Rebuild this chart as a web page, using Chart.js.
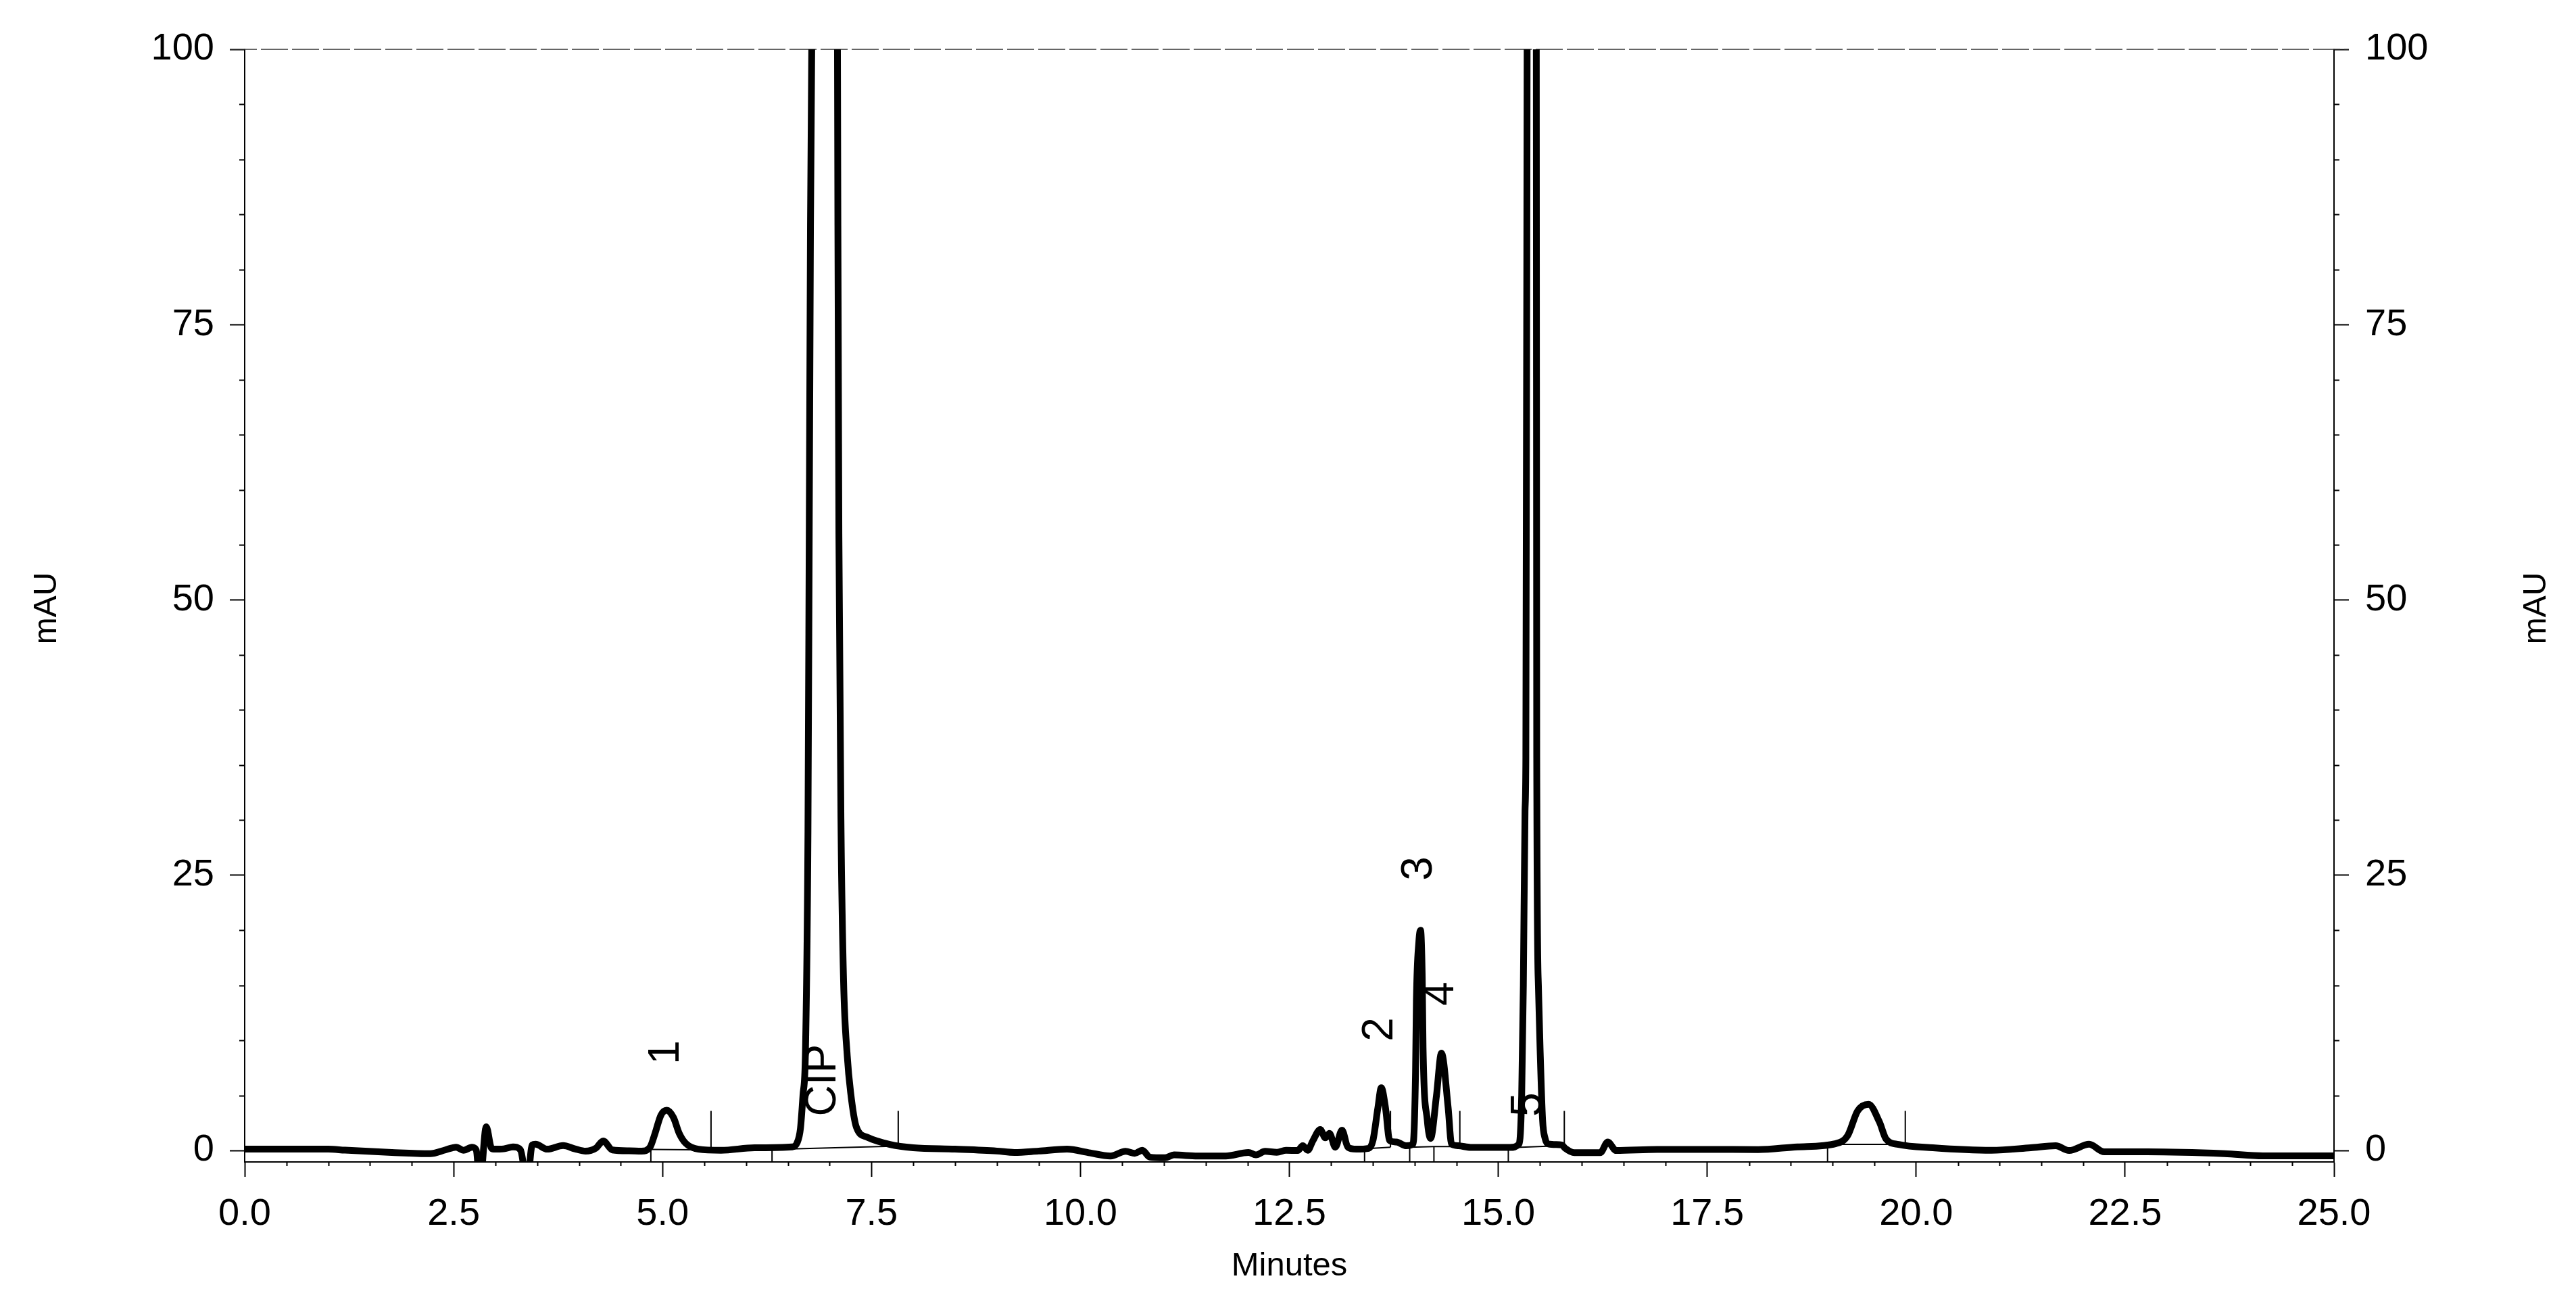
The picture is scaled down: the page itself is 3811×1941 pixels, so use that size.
<!DOCTYPE html>
<html>
<head>
<meta charset="utf-8">
<style>
  html, body { margin: 0; padding: 0; background: #ffffff; }
  canvas { display: block; }
</style>
<script src="https://cdn.jsdelivr.net/npm/chart.js@4/dist/chart.umd.min.js"></script>
</head>
<body>
<canvas id="c" width="3811" height="1941"></canvas>
<script>
// ---- data ----
const times = [
  0.00, 0.50, 1.00, 1.20, 1.76, 2.22, 2.40, 2.53, 2.62, 2.72, 2.77, 2.815, 2.89, 2.95, 2.98,
  3.10, 3.21, 3.30, 3.38, 3.44, 3.48, 3.62, 3.81, 3.95, 4.08, 4.20, 4.29, 4.40, 4.60, 4.75,
  4.85, 4.91, 4.98, 5.05, 5.13, 5.20, 5.28, 5.43, 5.70, 6.10, 6.55, 6.61, 6.65, 6.68, 6.71,
  6.74, 6.755, 6.77, 6.785, 6.94, 7.093, 7.098, 7.11, 7.136, 7.166, 7.21, 7.25, 7.32, 7.45, 7.72,
  8.00, 8.50, 9.00, 9.21, 9.50, 9.84, 10.10, 10.36, 10.54, 10.65, 10.74, 10.83, 11.01, 11.12, 11.40,
  11.74, 12.01, 12.10, 12.21, 12.35, 12.46, 12.60, 12.66, 12.72, 12.78, 12.87, 12.93, 12.98, 13.05, 13.13,
  13.20, 13.30, 13.45, 13.50, 13.56, 13.60, 13.65, 13.70, 13.78, 13.90, 13.98, 14.01, 14.02, 14.05, 14.07,
  14.09, 14.10, 14.15, 14.19, 14.26, 14.32, 14.40, 14.44, 14.52, 14.67, 15.14, 15.25, 15.28, 15.30, 15.32,
  15.33, 15.345, 15.40, 15.455, 15.46, 15.48, 15.50, 15.53, 15.56, 15.60, 15.76, 15.80, 15.91, 16.22, 16.31,
  16.41, 16.90, 17.50, 18.11, 18.58, 19.04, 19.18, 19.30, 19.43, 19.56, 19.64, 19.79, 20.20, 20.90, 21.37,
  21.67, 21.83, 22.07, 22.25, 22.76, 23.69, 24.15, 25.00
];
const mAU = [
  0.12, 0.12, 0.12, 0.03, -0.18, -0.29, 0.05, 0.30, 0.02, 0.29, 0.05, -3.0, 2.15, 0.25, 0.12,
  0.15, 0.33, 0.05, -3.0, 0.50, 0.57, 0.12, 0.45, 0.15, -0.06, 0.20, 0.86, 0.05, -0.03, -0.06,
  0.30, 1.55, 3.20, 3.65, 3.00, 1.55, 0.63, 0.12, 0.02, 0.25, 0.33, 0.70, 2.0, 5.0, 9.0,
  29, 56, 84, 100, 400, 100, 84, 56, 29, 15.4, 8.6, 5.3, 2.1, 1.2, 0.55,
  0.25, 0.12, -0.05, -0.18, -0.05, 0.12, -0.20, -0.50, -0.08, -0.25, 0.02, -0.60, -0.66, -0.40, -0.50,
  -0.50, -0.18, -0.40, -0.08, -0.16, 0.02, 0.00, 0.43, 0.02, 0.86, 1.90, 1.15, 1.55, 0.30, 1.85,
  0.30, 0.12, 0.20, 0.90, 3.90, 5.70, 3.90, 0.90, 0.77, 0.43, 0.60, 7.1, 13.6, 19.0, 20.0,
  15.7, 9.3, 2.8, 1.1, 4.97, 8.85, 3.9, 0.6, 0.43, 0.28, 0.28, 0.6, 5.0, 15, 30.8,
  35.7, 100, 400, 100, 35.7, 15, 9.3, 2.8, 1.1, 0.6, 0.5, 0.2, -0.2, -0.2, 0.77,
  0.0, 0.1, 0.1, 0.08, 0.33, 0.63, 1.35, 3.6, 4.2, 2.6, 1.04, 0.55, 0.25, 0.02, 0.25,
  0.43, 0.0, 0.57, -0.12, -0.12, -0.29, -0.49, -0.49
];

// integration marks (peak start / end) and drawn baselines
const startMarks = [4.86, 6.31, 13.40, 13.94, 14.23, 15.12, 18.94];
const startMarkLevels = [0.1, 0.1, 0.15, 0.3, 0.35, 0.25, 0.55];
const endMarks = [5.58, 7.82, 13.71, 14.54, 15.79, 19.87];
const endMarkLevels = [0.05, 0.4, 0.3, 0.35, 0.45, 0.55];
const endMarkTop = 3.6;
const axisFloor = -1.04;
const baselineTimes = [[4.86, 5.58], [6.31, 7.82], [13.40, 13.71], [13.94, 14.23, 14.54], [15.12, 15.79], [18.94, 19.87]];
const baselineLevels = [[0.1, 0.05], [0.1, 0.4], [0.15, 0.3], [0.3, 0.35, 0.35], [0.25, 0.45], [0.55, 0.55]];

// peak annotations
const peakNames = ['1', 'CIP', '2', '3', '4', '5'];
const peakNameTimes = [5.047, 6.923, 13.59, 14.06, 14.32, 15.37];
const peakNameLevels = [8.9, 6.38, 10.99, 25.6, 14.24, 4.17];

// axes
const xTickValues = [0, 2.5, 5, 7.5, 10, 12.5, 15, 17.5, 20, 22.5, 25];
const xTickLabels = ['0.0', '2.5', '5.0', '7.5', '10.0', '12.5', '15.0', '17.5', '20.0', '22.5', '25.0'];
const yTickValues = [0, 25, 50, 75, 100];
const yTickLabels = ['0', '25', '50', '75', '100'];
const xMinorStep = 0.5;
const yMinorStep = 5;
const xTitle = 'Minutes';
const yTitle = 'mAU';

// ---- build datasets ----
const traceData = times.map((t, i) => ({ x: t, y: mAU[i] }));
const markData = [];
startMarks.forEach((t, i) => { markData.push({ x: t, y: startMarkLevels[i] }, { x: t, y: axisFloor - 0.1 }, { x: t, y: null }); });
endMarks.forEach((t, i) => { markData.push({ x: t, y: endMarkLevels[i] }, { x: t, y: endMarkTop }, { x: t, y: null }); });
const baseData = [];
baselineTimes.forEach((seg, i) => {
  seg.forEach((t, j) => baseData.push({ x: t, y: baselineLevels[i][j] }));
  baseData.push({ x: seg[seg.length - 1], y: null });
});

const FONT = "'Liberation Sans', Arial, Helvetica, sans-serif";

const decor = {
  id: 'decor',
  beforeDraw(chart) {
    const ctx = chart.ctx;
    ctx.save();
    ctx.fillStyle = '#ffffff';
    ctx.fillRect(0, 0, chart.width, chart.height);
    ctx.restore();
  },
  beforeDatasetsDraw(chart) {
    const ctx = chart.ctx, a = chart.chartArea;
    const xs = chart.scales.x, ys = chart.scales.y;
    ctx.save();
    // dashed 100 line
    const yTop = ys.getPixelForValue(yTickValues[yTickValues.length - 1]);
    ctx.strokeStyle = '#333';
    ctx.lineWidth = 1.5;
    ctx.setLineDash([40, 6]);
    ctx.beginPath();
    ctx.moveTo(a.left - 22, yTop);
    ctx.lineTo(a.right + 22, yTop);
    ctx.stroke();
    ctx.setLineDash([]);
    // minor ticks
    ctx.strokeStyle = '#000';
    ctx.lineWidth = 2;
    ctx.beginPath();
    const xMax = xTickValues[xTickValues.length - 1];
    for (let v = xMinorStep; v < xMax; v += xMinorStep) {
      if (Math.abs(v / 2.5 - Math.round(v / 2.5)) < 1e-6) continue;
      const px = Math.round(xs.getPixelForValue(v)) + 0.5;
      ctx.moveTo(px, a.bottom);
      ctx.lineTo(px, a.bottom + 6);
    }
    const yMax = yTickValues[yTickValues.length - 1];
    for (let v = yMinorStep; v < yMax; v += yMinorStep) {
      if (v % 25 === 0) continue;
      const py = Math.round(ys.getPixelForValue(v)) + 0.5;
      ctx.moveTo(a.left, py); ctx.lineTo(a.left - 8, py);
      ctx.moveTo(a.right, py); ctx.lineTo(a.right + 8, py);
    }
    ctx.stroke();
    ctx.restore();
  },
  afterDatasetsDraw(chart) {
    const ctx = chart.ctx, a = chart.chartArea;
    const xs = chart.scales.x, ys = chart.scales.y;
    ctx.save();
    ctx.fillStyle = '#000';
    ctx.textAlign = 'center';
    ctx.textBaseline = 'middle';
    // peak labels, rotated
    ctx.font = '64px ' + FONT;
    peakNames.forEach((name, i) => {
      const px = xs.getPixelForValue(peakNameTimes[i]);
      const py = ys.getPixelForValue(peakNameLevels[i]);
      ctx.save();
      ctx.translate(px, py);
      ctx.rotate(-Math.PI / 2);
      ctx.fillText(name, 0, 0);
      ctx.restore();
    });
    // axis titles
    ctx.font = '48px ' + FONT;
    const midY = (a.top + a.bottom) / 2 + 4;
    [70, chart.width - 58].forEach(px => {
      ctx.save();
      ctx.translate(px, midY);
      ctx.rotate(-Math.PI / 2);
      ctx.fillText(yTitle, 0, 0);
      ctx.restore();
    });
    ctx.font = '49px ' + FONT;
    ctx.fillText(xTitle, (a.left + a.right) / 2, 1873);
    ctx.restore();
  }
};

const tickFont = { family: FONT, size: 56 };
const gridOpts = { display: true, drawOnChartArea: false, drawTicks: true, tickLength: 22, tickWidth: 2, tickColor: '#000' };
const borderOpts = { display: true, color: '#000', width: 2 };

function yAxis(position, width, pad) {
  return {
    type: 'linear',
    position: position,
    min: axisFloor,
    max: 100,
    grid: gridOpts,
    border: borderOpts,
    afterBuildTicks: s => { s.ticks = yTickValues.map(v => ({ value: v })); },
    afterFit: s => { s.width = width; },
    ticks: {
      color: '#000',
      font: tickFont,
      padding: pad,
      autoSkip: false,
      callback: (v) => { const k = yTickValues.indexOf(v); return k >= 0 ? yTickLabels[k] : ''; }
    }
  };
}

new Chart(document.getElementById('c'), {
  type: 'line',
  data: {
    datasets: [
      {
        label: 'trace',
        data: traceData,
        borderColor: '#000',
        borderWidth: 10,
        pointRadius: 0,
        cubicInterpolationMode: 'monotone',
        borderJoinStyle: 'round',
        borderCapStyle: 'round',
        clip: 0,
        yAxisID: 'y'
      },
      {
        label: 'marks',
        data: markData,
        borderColor: '#000',
        borderWidth: 2,
        pointRadius: 0,
        spanGaps: false,
        tension: 0,
        clip: 0,
        yAxisID: 'y'
      },
      {
        label: 'baselines',
        data: baseData,
        borderColor: '#000',
        borderWidth: 2,
        pointRadius: 0,
        spanGaps: false,
        tension: 0,
        clip: 0,
        yAxisID: 'y'
      }
    ]
  },
  options: {
    responsive: false,
    animation: false,
    devicePixelRatio: 1,
    parsing: true,
    layout: { padding: { top: 73, left: 0, right: 0, bottom: 0 } },
    plugins: { legend: { display: false }, tooltip: { enabled: false } },
    scales: {
      x: {
        type: 'linear',
        position: 'bottom',
        min: 0,
        max: 25,
        grid: gridOpts,
        border: borderOpts,
        afterBuildTicks: s => { s.ticks = xTickValues.map(v => ({ value: v })); },
        afterFit: s => { s.height = 222; },
        ticks: {
          color: '#000',
          font: tickFont,
          padding: 22,
          maxRotation: 0,
          minRotation: 0,
          autoSkip: false,
          callback: (v) => { const k = xTickValues.indexOf(v); return k >= 0 ? xTickLabels[k] : ''; }
        }
      },
      y: yAxis('left', 362, 23),
      y2: yAxis('right', 358, 24)
    }
  },
  plugins: [decor]
});
</script>
</body>
</html>
